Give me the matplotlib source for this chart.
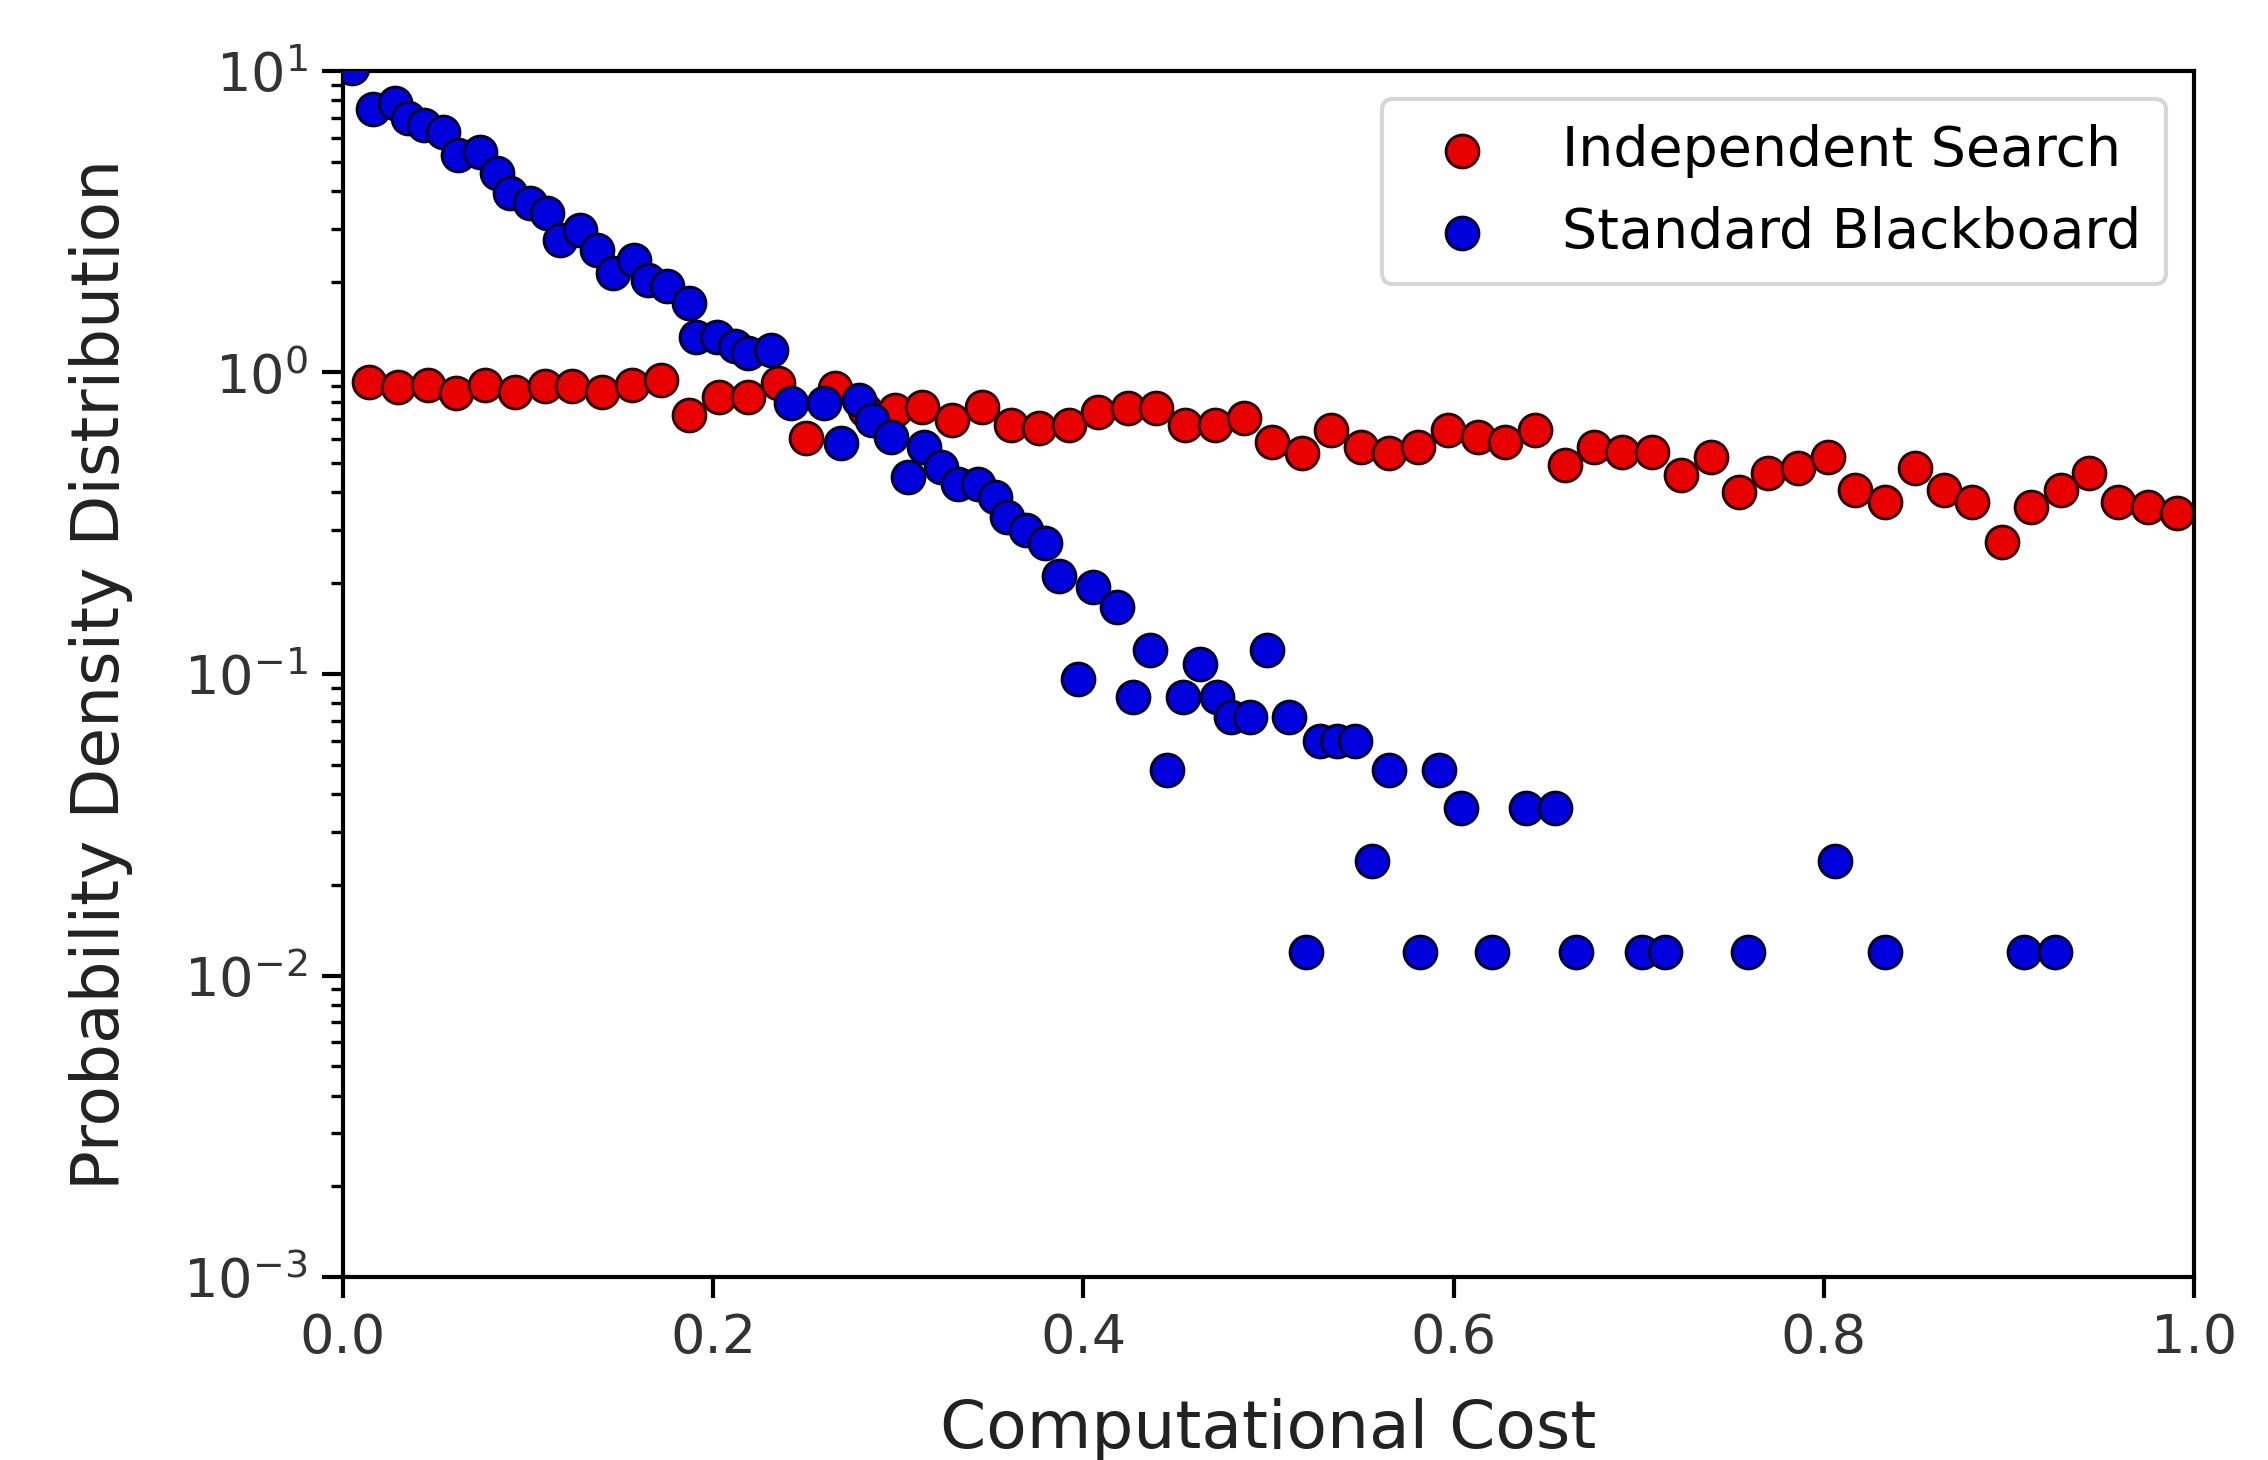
import matplotlib
matplotlib.use("Agg")
import matplotlib.pyplot as plt

# Independent Search: evenly spaced bins
red_x = [0.014, 0.030, 0.046, 0.061, 0.077, 0.093, 0.109, 0.124, 0.140, 0.156,
         0.172, 0.187, 0.203, 0.219, 0.235, 0.250, 0.266, 0.282, 0.298, 0.313,
         0.329, 0.345, 0.361, 0.376, 0.392, 0.408, 0.424, 0.439, 0.455, 0.471,
         0.487, 0.502, 0.518, 0.534, 0.550, 0.565, 0.581, 0.597, 0.613, 0.628,
         0.644, 0.660, 0.676, 0.691, 0.707, 0.723, 0.739, 0.754, 0.770, 0.786,
         0.802, 0.817, 0.833, 0.849, 0.865, 0.880, 0.896, 0.912, 0.928, 0.943,
         0.959, 0.975, 0.991]
red_y = [0.932, 0.897, 0.909, 0.853, 0.909, 0.864, 0.902, 0.902, 0.864, 0.909,
         0.944, 0.723, 0.831, 0.831, 0.923, 0.605, 0.888, 0.750, 0.751, 0.770,
         0.696, 0.770, 0.670, 0.653, 0.670, 0.741, 0.761, 0.761, 0.670, 0.670,
         0.705, 0.589, 0.539, 0.645, 0.567, 0.539, 0.567, 0.645, 0.612, 0.589,
         0.645, 0.493, 0.567, 0.546, 0.543, 0.457, 0.526, 0.402, 0.463, 0.481,
         0.526, 0.408, 0.373, 0.481, 0.408, 0.373, 0.275, 0.359, 0.408, 0.463,
         0.373, 0.359, 0.341]

# Standard Blackboard
blue_x = [0.005, 0.016, 0.028, 0.035, 0.044, 0.054, 0.062, 0.074, 0.083, 0.090,
          0.101, 0.110, 0.117, 0.128, 0.137, 0.146, 0.157, 0.165, 0.175, 0.187,
          0.191, 0.202, 0.212, 0.219, 0.231, 0.242, 0.260, 0.269, 0.279, 0.286,
          0.296, 0.305, 0.314, 0.323, 0.332, 0.343, 0.352, 0.359, 0.369, 0.379,
          0.387, 0.397, 0.405, 0.418, 0.427, 0.436, 0.445, 0.454, 0.463, 0.472,
          0.480, 0.490, 0.499, 0.511, 0.520, 0.528, 0.537, 0.547, 0.556, 0.565,
          0.582, 0.592, 0.604, 0.621, 0.639, 0.655, 0.666, 0.702, 0.714, 0.759,
          0.806, 0.833, 0.908, 0.925]
blue_y = [10.2, 7.5, 7.8, 6.97, 6.62, 6.29, 5.26, 5.40, 4.58, 3.93,
          3.64, 3.37, 2.75, 2.97, 2.55, 2.13, 2.36, 2.03, 1.93, 1.70,
          1.31, 1.31, 1.22, 1.16, 1.19, 0.791, 0.791, 0.583, 0.811, 0.695,
          0.612, 0.451, 0.567, 0.487, 0.428, 0.428, 0.387, 0.332, 0.301, 0.272,
          0.211, 0.096, 0.195, 0.167, 0.084, 0.120, 0.048, 0.084, 0.108, 0.084,
          0.072, 0.072, 0.120, 0.072, 0.012, 0.060, 0.060, 0.060, 0.024, 0.048,
          0.012, 0.048, 0.036, 0.012, 0.036, 0.036, 0.012, 0.012, 0.012, 0.012,
          0.024, 0.012, 0.012, 0.012]

fig = plt.figure(figsize=(7.56, 4.8667), dpi=300)
ax = fig.add_axes([0.1512, 0.1253, 0.8162, 0.8261])

ax.scatter(red_x, red_y, s=62, c='#e80000', edgecolors='#300000', linewidths=0.7,
           label='Independent Search', zorder=2)
ax.scatter(blue_x, blue_y, s=62, c='#0000dc', edgecolors='#000030', linewidths=0.7,
           label='Standard Blackboard', zorder=3)

ax.set_yscale('log')
ax.set_xlim(0, 1)
ax.set_ylim(1e-3, 1e1)
ax.set_xticks([0.0, 0.2, 0.4, 0.6, 0.8, 1.0])
ax.set_xlabel('Computational Cost', fontsize=15.9, color='#222222', labelpad=8)
ax.set_ylabel('Probability Density Distribution', fontsize=15.9, color='#222222',
              labelpad=12)
ax.tick_params(axis='both', which='major', labelsize=13, length=5, width=1,
               direction='out', labelcolor='#333333')
ax.tick_params(axis='y', which='minor', length=3, width=0.8)
for sp in ax.spines.values():
    sp.set_linewidth(1.0)

ax.legend(loc='upper right', fontsize=13.3, scatterpoints=1, framealpha=0.8,
          edgecolor='#cccccc', handletextpad=0.8, borderpad=0.45)

fig.savefig('out.png', dpi=300)
